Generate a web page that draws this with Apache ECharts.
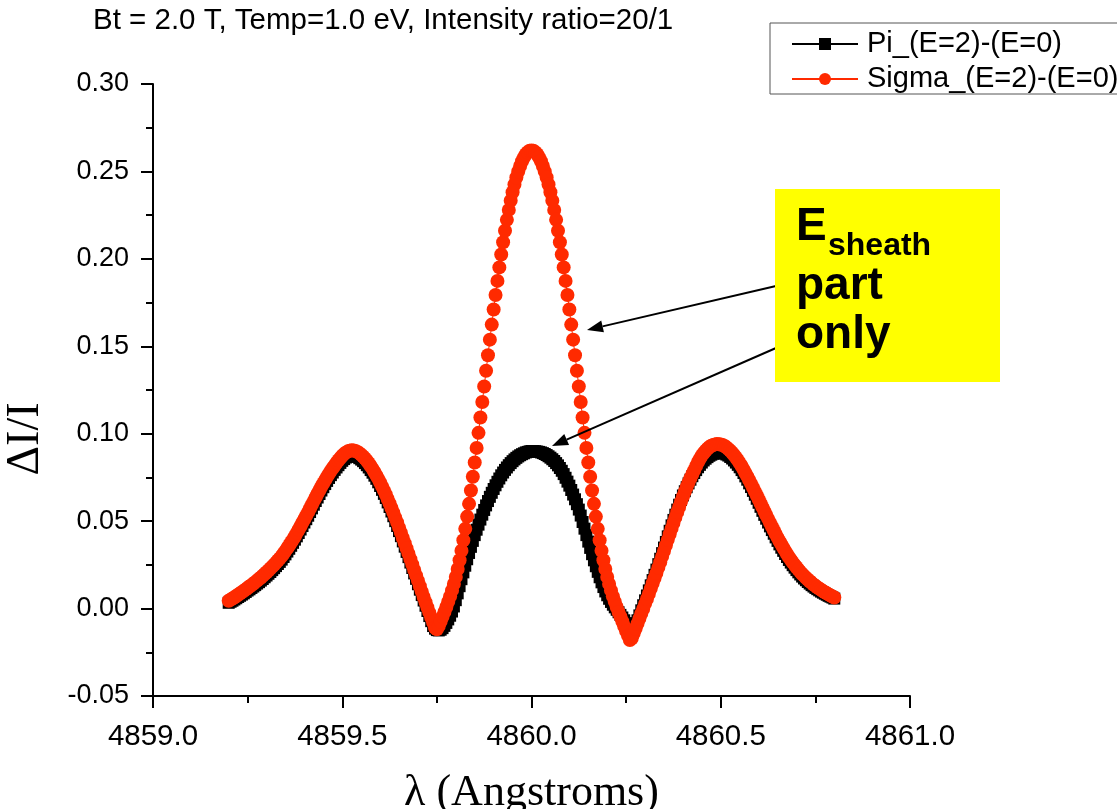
<!DOCTYPE html>
<html><head><meta charset="utf-8">
<script src="https://cdn.jsdelivr.net/npm/echarts@6/dist/echarts.min.js"></script>
<style>html,body{margin:0;padding:0;background:#fff;overflow:hidden}#chart{width:1117px;height:809px}</style>
</head><body><div id="chart"></div>
<script>
const wavelength = [
4859.200,4859.205,4859.210,4859.215,4859.220,4859.225,4859.230,4859.235,4859.240,4859.245,
4859.250,4859.255,4859.260,4859.265,4859.270,4859.275,4859.280,4859.285,4859.290,4859.295,
4859.300,4859.305,4859.310,4859.315,4859.320,4859.325,4859.330,4859.335,4859.340,4859.345,
4859.350,4859.355,4859.360,4859.365,4859.370,4859.375,4859.380,4859.385,4859.390,4859.395,
4859.400,4859.405,4859.410,4859.415,4859.420,4859.425,4859.430,4859.435,4859.440,4859.445,
4859.450,4859.455,4859.460,4859.465,4859.470,4859.475,4859.480,4859.485,4859.490,4859.495,
4859.500,4859.505,4859.510,4859.515,4859.520,4859.525,4859.530,4859.535,4859.540,4859.545,
4859.550,4859.555,4859.560,4859.565,4859.570,4859.575,4859.580,4859.585,4859.590,4859.595,
4859.600,4859.605,4859.610,4859.615,4859.620,4859.625,4859.630,4859.635,4859.640,4859.645,
4859.650,4859.655,4859.660,4859.665,4859.670,4859.675,4859.680,4859.685,4859.690,4859.695,
4859.700,4859.705,4859.710,4859.715,4859.720,4859.725,4859.730,4859.735,4859.740,4859.745,
4859.750,4859.755,4859.760,4859.765,4859.770,4859.775,4859.780,4859.785,4859.790,4859.795,
4859.800,4859.805,4859.810,4859.815,4859.820,4859.825,4859.830,4859.835,4859.840,4859.845,
4859.850,4859.855,4859.860,4859.865,4859.870,4859.875,4859.880,4859.885,4859.890,4859.895,
4859.900,4859.905,4859.910,4859.915,4859.920,4859.925,4859.930,4859.935,4859.940,4859.945,
4859.950,4859.955,4859.960,4859.965,4859.970,4859.975,4859.980,4859.985,4859.990,4859.995,
4860.000,4860.005,4860.010,4860.015,4860.020,4860.025,4860.030,4860.035,4860.040,4860.045,
4860.050,4860.055,4860.060,4860.065,4860.070,4860.075,4860.080,4860.085,4860.090,4860.095,
4860.100,4860.105,4860.110,4860.115,4860.120,4860.125,4860.130,4860.135,4860.140,4860.145,
4860.150,4860.155,4860.160,4860.165,4860.170,4860.175,4860.180,4860.185,4860.190,4860.195,
4860.200,4860.205,4860.210,4860.215,4860.220,4860.225,4860.230,4860.235,4860.240,4860.245,
4860.250,4860.255,4860.260,4860.265,4860.270,4860.275,4860.280,4860.285,4860.290,4860.295,
4860.300,4860.305,4860.310,4860.315,4860.320,4860.325,4860.330,4860.335,4860.340,4860.345,
4860.350,4860.355,4860.360,4860.365,4860.370,4860.375,4860.380,4860.385,4860.390,4860.395,
4860.400,4860.405,4860.410,4860.415,4860.420,4860.425,4860.430,4860.435,4860.440,4860.445,
4860.450,4860.455,4860.460,4860.465,4860.470,4860.475,4860.480,4860.485,4860.490,4860.495,
4860.500,4860.505,4860.510,4860.515,4860.520,4860.525,4860.530,4860.535,4860.540,4860.545,
4860.550,4860.555,4860.560,4860.565,4860.570,4860.575,4860.580,4860.585,4860.590,4860.595,
4860.600,4860.605,4860.610,4860.615,4860.620,4860.625,4860.630,4860.635,4860.640,4860.645,
4860.650,4860.655,4860.660,4860.665,4860.670,4860.675,4860.680,4860.685,4860.690,4860.695,
4860.700,4860.705,4860.710,4860.715,4860.720,4860.725,4860.730,4860.735,4860.740,4860.745,
4860.750,4860.755,4860.760,4860.765,4860.770,4860.775,4860.780,4860.785,4860.790,4860.795,
4860.800];

const piValues = [
0.0033,0.0039,0.0045,0.0052,0.0059,0.0066,0.0073,0.0080,0.0087,0.0095,
0.0103,0.0110,0.0118,0.0126,0.0134,0.0143,0.0151,0.0160,0.0169,0.0179,
0.0189,0.0199,0.0209,0.0220,0.0231,0.0243,0.0255,0.0267,0.0280,0.0295,
0.0310,0.0326,0.0342,0.0359,0.0376,0.0394,0.0413,0.0432,0.0452,0.0472,
0.0492,0.0511,0.0531,0.0552,0.0573,0.0594,0.0615,0.0635,0.0655,0.0675,
0.0694,0.0712,0.0730,0.0747,0.0763,0.0778,0.0793,0.0807,0.0820,0.0833,
0.0845,0.0855,0.0864,0.0870,0.0874,0.0876,0.0875,0.0872,0.0867,0.0860,
0.0852,0.0843,0.0832,0.0820,0.0807,0.0792,0.0777,0.0760,0.0742,0.0722,
0.0701,0.0679,0.0656,0.0632,0.0607,0.0581,0.0555,0.0528,0.0500,0.0472,
0.0443,0.0414,0.0384,0.0354,0.0324,0.0294,0.0263,0.0232,0.0201,0.0170,
0.0139,0.0108,0.0077,0.0046,0.0016,-0.0014,-0.0043,-0.0072,-0.0100,-0.0115,
-0.0123,-0.0125,-0.0121,-0.0112,-0.0099,-0.0082,-0.0062,-0.0041,-0.0017,0.0012,
0.0048,0.0087,0.0128,0.0168,0.0207,0.0245,0.0282,0.0318,0.0353,0.0387,
0.0420,0.0451,0.0480,0.0509,0.0537,0.0564,0.0590,0.0615,0.0639,0.0662,
0.0684,0.0705,0.0725,0.0744,0.0762,0.0778,0.0793,0.0807,0.0820,0.0832,
0.0843,0.0853,0.0862,0.0870,0.0877,0.0883,0.0888,0.0893,0.0896,0.0899,
0.0901,0.0901,0.0900,0.0898,0.0896,0.0893,0.0889,0.0884,0.0878,0.0871,
0.0863,0.0854,0.0844,0.0832,0.0819,0.0804,0.0788,0.0769,0.0748,0.0726,
0.0703,0.0678,0.0652,0.0625,0.0597,0.0566,0.0532,0.0495,0.0457,0.0420,
0.0383,0.0347,0.0311,0.0276,0.0242,0.0210,0.0179,0.0150,0.0123,0.0098,
0.0076,0.0056,0.0038,0.0022,0.0007,-0.0007,-0.0021,-0.0036,-0.0051,-0.0067,
-0.0083,-0.0100,-0.0115,-0.0122,-0.0112,-0.0092,-0.0067,-0.0039,-0.0010,0.0019,
0.0047,0.0075,0.0104,0.0133,0.0163,0.0193,0.0223,0.0254,0.0285,0.0317,
0.0349,0.0381,0.0413,0.0445,0.0476,0.0507,0.0537,0.0566,0.0594,0.0621,
0.0647,0.0671,0.0694,0.0716,0.0737,0.0757,0.0775,0.0792,0.0808,0.0822,
0.0835,0.0847,0.0857,0.0866,0.0874,0.0880,0.0885,0.0889,0.0891,0.0892,
0.0891,0.0889,0.0886,0.0881,0.0875,0.0867,0.0858,0.0847,0.0835,0.0822,
0.0808,0.0792,0.0775,0.0756,0.0737,0.0716,0.0695,0.0673,0.0651,0.0628,
0.0605,0.0582,0.0559,0.0536,0.0514,0.0492,0.0470,0.0449,0.0428,0.0407,
0.0387,0.0367,0.0348,0.0330,0.0312,0.0295,0.0278,0.0263,0.0248,0.0234,
0.0220,0.0207,0.0195,0.0183,0.0172,0.0162,0.0152,0.0143,0.0134,0.0126,
0.0118,0.0111,0.0104,0.0097,0.0091,0.0085,0.0079,0.0073,0.0068,0.0063,
0.0057];

const sigmaValues = [
0.0045,0.0051,0.0058,0.0065,0.0072,0.0079,0.0087,0.0094,0.0102,0.0110,
0.0118,0.0126,0.0134,0.0142,0.0151,0.0160,0.0169,0.0178,0.0188,0.0198,
0.0208,0.0218,0.0229,0.0240,0.0251,0.0263,0.0275,0.0287,0.0300,0.0315,
0.0330,0.0346,0.0362,0.0379,0.0396,0.0414,0.0433,0.0452,0.0472,0.0492,
0.0512,0.0532,0.0553,0.0574,0.0595,0.0616,0.0637,0.0658,0.0678,0.0698,
0.0717,0.0736,0.0754,0.0771,0.0788,0.0804,0.0819,0.0834,0.0848,0.0861,
0.0874,0.0884,0.0893,0.0899,0.0903,0.0905,0.0904,0.0901,0.0896,0.0889,
0.0880,0.0870,0.0858,0.0845,0.0831,0.0815,0.0799,0.0781,0.0762,0.0742,
0.0721,0.0699,0.0676,0.0652,0.0627,0.0601,0.0575,0.0548,0.0520,0.0492,
0.0463,0.0434,0.0404,0.0374,0.0344,0.0314,0.0283,0.0252,0.0221,0.0190,
0.0159,0.0128,0.0097,0.0066,0.0036,0.0006,-0.0023,-0.0052,-0.0080,-0.0110,
-0.0118,-0.0100,-0.0074,-0.0047,-0.0019,0.0009,0.0039,0.0070,0.0104,0.0141,
0.0181,0.0226,0.0276,0.0331,0.0391,0.0456,0.0526,0.0599,0.0675,0.0754,
0.0835,0.0919,0.1005,0.1093,0.1181,0.1270,0.1360,0.1449,0.1538,0.1624,
0.1710,0.1793,0.1874,0.1951,0.2025,0.2095,0.2161,0.2223,0.2280,0.2333,
0.2381,0.2425,0.2465,0.2500,0.2531,0.2558,0.2580,0.2598,0.2610,0.2618,
0.2620,0.2618,0.2610,0.2598,0.2580,0.2558,0.2531,0.2500,0.2465,0.2425,
0.2381,0.2333,0.2280,0.2223,0.2161,0.2095,0.2025,0.1951,0.1874,0.1793,
0.1710,0.1624,0.1538,0.1449,0.1360,0.1270,0.1181,0.1093,0.1005,0.0919,
0.0835,0.0754,0.0675,0.0599,0.0526,0.0456,0.0391,0.0331,0.0276,0.0226,
0.0181,0.0141,0.0104,0.0070,0.0039,0.0009,-0.0019,-0.0047,-0.0074,-0.0102,
-0.0129,-0.0156,-0.0180,-0.0170,-0.0143,-0.0115,-0.0087,-0.0058,-0.0030,-0.0002,
0.0027,0.0055,0.0084,0.0113,0.0143,0.0173,0.0203,0.0234,0.0265,0.0297,
0.0329,0.0361,0.0393,0.0425,0.0457,0.0489,0.0520,0.0551,0.0581,0.0611,
0.0640,0.0668,0.0695,0.0721,0.0746,0.0770,0.0792,0.0816,0.0838,0.0857,
0.0875,0.0890,0.0903,0.0914,0.0924,0.0931,0.0936,0.0939,0.0941,0.0940,
0.0938,0.0935,0.0930,0.0922,0.0913,0.0903,0.0891,0.0878,0.0864,0.0849,
0.0832,0.0815,0.0796,0.0776,0.0756,0.0735,0.0714,0.0692,0.0670,0.0648,
0.0625,0.0602,0.0580,0.0557,0.0535,0.0513,0.0491,0.0469,0.0448,0.0427,
0.0406,0.0386,0.0367,0.0348,0.0330,0.0312,0.0295,0.0279,0.0264,0.0250,
0.0236,0.0223,0.0210,0.0198,0.0187,0.0176,0.0166,0.0156,0.0147,0.0138,
0.0130,0.0122,0.0114,0.0107,0.0100,0.0093,0.0087,0.0081,0.0075,0.0069,
0.0063];

const seriesNames = ['Pi_(E=2)-(E=0)', 'Sigma_(E=2)-(E=0)'];
const titleText = 'Bt = 2.0 T, Temp=1.0 eV, Intensity ratio=20/1';
const xAxisName = 'λ (Angstroms)';
const yAxisName = 'ΔI/I';
const xRange = [4859.0, 4861.0, 0.5];
const yRange = [-0.05, 0.30, 0.05];
const noteLines = ['E', 'sheath', 'part', 'only'];

const SANS = '"Liberation Sans", Arial, sans-serif';
const SERIF = '"Liberation Serif", "Times New Roman", serif';
const RED = '#ff2a00';

const chart = echarts.init(document.getElementById('chart'), null, {renderer: 'canvas', width: 1117, height: 809});

function arrow(x1, y1, tx, ty) {
  const dx = tx - x1, dy = ty - y1, L = Math.hypot(dx, dy);
  const ux = dx / L, uy = dy / L, px = -uy, py = ux;
  const bx = tx - 16 * ux, by = ty - 16 * uy;
  return [
    {type: 'line', silent: true, z: 100, shape: {x1: x1, y1: y1, x2: bx, y2: by}, style: {stroke: '#000', lineWidth: 2}},
    {type: 'polygon', silent: true, z: 100, shape: {points: [[tx, ty], [bx + 6 * px, by + 6 * py], [bx - 6 * px, by - 6 * py]]}, style: {fill: '#000'}}
  ];
}

const option = {
  animation: false,
  backgroundColor: '#fff',
  title: {
    text: titleText, left: 93, top: 6, padding: 0,
    textStyle: {fontFamily: SANS, fontSize: 29.5, fontWeight: 'normal', color: '#000'}
  },
  legend: {
    orient: 'vertical', left: 770, top: 25,
    padding: [3, 0, 3, 21], itemGap: 3, itemWidth: 66, itemHeight: 15,
    borderWidth: 0,
    textStyle: {fontFamily: SANS, fontSize: 29, color: '#000', lineHeight: 32, padding: [0, 0, 0, 4]},
    data: seriesNames
  },
  grid: {left: 153, right: 207, top: 84, bottom: 113, containLabel: false, outerBoundsMode: 'none'},
  xAxis: {
    type: 'value', min: xRange[0], max: xRange[1], interval: xRange[2],
    name: xAxisName, nameLocation: 'middle', nameGap: 75,
    nameTextStyle: {fontFamily: SERIF, fontSize: 44, color: '#000'},
    axisLine: {onZero: false, lineStyle: {color: '#000', width: 2}},
    axisTick: {inside: false, length: 12, lineStyle: {color: '#000', width: 2}},
    minorTick: {show: true, splitNumber: 2, length: 7, lineStyle: {color: '#000', width: 2}},
    axisLabel: {margin: 26, fontFamily: SANS, fontSize: 29.5, color: '#000', formatter: v => v.toFixed(1)},
    splitLine: {show: false}
  },
  yAxis: {
    type: 'value', min: yRange[0], max: yRange[1], interval: yRange[2],
    name: yAxisName, nameLocation: 'middle', nameGap: 104,
    nameTextStyle: {fontFamily: SERIF, fontSize: 46, color: '#000', padding: [0, 98, 0, 0]},
    axisLine: {onZero: false, lineStyle: {color: '#000', width: 2}},
    axisTick: {inside: false, length: 12, lineStyle: {color: '#000', width: 2}},
    minorTick: {show: true, splitNumber: 2, length: 7, lineStyle: {color: '#000', width: 2}},
    axisLabel: {margin: 24, fontFamily: SANS, fontSize: 27, color: '#000', formatter: v => v.toFixed(2)},
    splitLine: {show: false}
  },
  series: [
    {
      name: seriesNames[0], type: 'line', silent: true, z: 2,
      data: wavelength.map((x, i) => [x, piValues[i]]),
      symbol: 'rect', symbolSize: 12, showSymbol: true, showAllSymbol: true,
      itemStyle: {color: '#000'}, lineStyle: {color: '#000', width: 1},
      emphasis: {disabled: true}
    },
    {
      name: seriesNames[1], type: 'line', silent: true, z: 3,
      data: wavelength.map((x, i) => [x, sigmaValues[i]]),
      symbol: 'circle', symbolSize: 14, showSymbol: true, showAllSymbol: true,
      itemStyle: {color: RED}, lineStyle: {color: RED, width: 1},
      emphasis: {disabled: true}
    }
  ],
  graphic: [].concat(
    [{type: 'rect', silent: true, z: 50, shape: {x: 770, y: 23, width: 400, height: 71}, style: {fill: 'none', stroke: '#555', lineWidth: 1}}],
    arrow(776, 286, 587, 330),
    arrow(776, 348, 552, 446),
    [
      {type: 'rect', silent: true, z: 101, shape: {x: 775, y: 189, width: 225, height: 193}, style: {fill: '#ffff00'}},
      {type: 'text', silent: true, z: 102, x: 796, y: 227, style: {text: noteLines[0], font: 'bold 46px ' + SANS, fill: '#000', align: 'left', verticalAlign: 'middle'}},
      {type: 'text', silent: true, z: 102, x: 828, y: 246, style: {text: noteLines[1], font: 'bold 32px ' + SANS, fill: '#000', align: 'left', verticalAlign: 'middle'}},
      {type: 'text', silent: true, z: 102, x: 796, y: 286, style: {text: noteLines[2], font: 'bold 46px ' + SANS, fill: '#000', align: 'left', verticalAlign: 'middle'}},
      {type: 'text', silent: true, z: 102, x: 796, y: 335, style: {text: noteLines[3], font: 'bold 46px ' + SANS, fill: '#000', align: 'left', verticalAlign: 'middle'}}
    ]
  )
};
chart.setOption(option);
</script>
</body></html>
